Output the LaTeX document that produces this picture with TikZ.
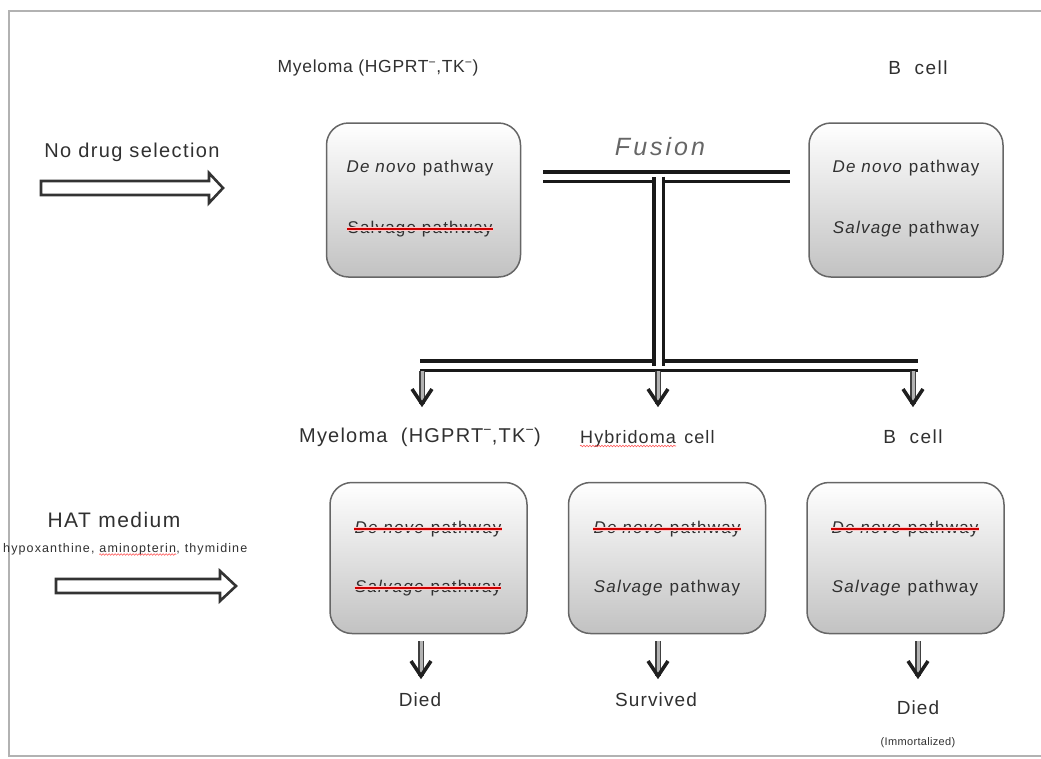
\documentclass[tikz,border=0pt]{standalone}
\usepackage{fontspec}
\setmainfont{Liberation Sans}
\usetikzlibrary{calc,decorations.pathmorphing}
\definecolor{txtc}{HTML}{303030}
\definecolor{boxc}{HTML}{666666}
\newcommand{\fsz}[2]{\fontsize{#1}{#1}\selectfont\addfontfeature{LetterSpace=#2}}
\begin{document}
\begin{tikzpicture}[x=1pt,y=-1pt,
 lbl/.style={inner sep=0pt, text=txtc, font=\fsz{17}{4}},
 ptxt/.style={inner sep=0pt, text=txtc, font=\fsz{17}{7}},
 smalltxt/.style={inner sep=0pt, text=txtc, font=\fsz{12.5}{9}},
 cellbox/.style={draw=boxc, line width=1.5pt, rounded corners=22pt, top color=white, bottom color=black!24, minimum width=194pt, minimum height=154pt, inner sep=0pt},
 pipe/.style={draw=black!90, line width=3.3pt, double=white, double distance=6pt, line cap=butt},
 bigarrow/.style={draw=black!80, line width=2.6pt, fill=white, line join=miter},
 shaft/.style={draw=black!75, line width=1.1pt, double=black!30, double distance=3pt},
 vhead/.style={draw=black!88, line width=3.5pt, line join=miter, line cap=butt},
 glow/.style={draw=red!22, line width=4.5pt},
 strike/.style={draw=red!80!black, line width=1.8pt},
 wavy/.style={draw=red!65, line width=0.6pt, decorate, decoration={snake, amplitude=0.8pt, segment length=3pt}},
 frame/.style={draw=black!30, line width=1.5pt}
]
\useasboundingbox (0,0) rectangle (1041,758);
% frame
\draw[frame] (1041,11) -- (9,11) -- (9,756) -- (1041,756);

% top labels
\node[lbl, font=\fsz{17.5}{4}] (myeT) at (378,68) {Myeloma (HGPRT\textsuperscript{−},TK\textsuperscript{−})};
\node[lbl, font=\fsz{19}{8}] (bcT) at (918,68) {B\ \ cell};
\node[lbl, font=\fsz{20}{7}] (nodrug) at (132,152) {No drug selection};

% big hollow arrows
\draw[bigarrow] (41,181) -- (209,181) -- (209,173) -- (223,188) -- (209,203) -- (209,195) -- (41,195) -- cycle;
\draw[bigarrow] (56,579) -- (220,579) -- (220,571) -- (236,586) -- (220,601) -- (220,593) -- (56,593) -- cycle;

% top boxes
\node[cellbox] (boxTL) at (423.5,200) {};
\node[cellbox] (boxTR) at (906,200) {};
\node[ptxt] (tlA) at (420,168) {\textit{De novo} pathway};
\node[ptxt] (tlB) at (420,229) {Salvage pathway};
\node[ptxt] (trA) at (906,168) {\textit{De novo} pathway};
\node[ptxt] (trB) at (906,229) {\textit{Salvage} pathway};

% fusion
\node[inner sep=0pt, text=black!60, font=\fsz{25}{12}\itshape] (fusion) at (660,147) {Fusion};
\coordinate (fl) at (543,176.5);
\coordinate (fr) at (790,176.5);
\coordinate (fm) at (658.5,176.5);
\coordinate (bm) at (658.5,365.5);
\coordinate (bl) at (420,365.5);
\coordinate (br) at (918,365.5);
\draw[pipe] (fl) -- (fr);
\draw[pipe] (bl) -- (br);
\draw[pipe] (fm) -- (bm);

% arrows from lower pipe
\coordinate (a1s) at (422,371); \coordinate (a1e) at (422,404);
\coordinate (a2s) at (658,371); \coordinate (a2e) at (658,404);
\coordinate (a3s) at (913,371); \coordinate (a3e) at (913,404);
\foreach \s/\e in {a1s/a1e,a2s/a2e,a3s/a3e}{
  \draw[shaft] (\s) -- (\e);
  \draw[vhead] ($(\e)+(-10,-15)$) -- (\e) -- ($(\e)+(10,-15)$);
}

% lower labels
\node[lbl, font=\fsz{20}{6}] (myeB) at (420,437) {Myeloma \ (HGPRT\textsuperscript{−},TK\textsuperscript{−})};
\node[lbl, font=\fsz{18}{6}, anchor=base west] (hyb) at (580,443) {Hybridoma};
\node[lbl, font=\fsz{18}{6}, anchor=base west] (hcell) at ([xshift=8pt]hyb.base east) {cell};
\draw[wavy] ([yshift=-3pt]hyb.base west) -- ([yshift=-3pt]hyb.base east);
\node[lbl, font=\fsz{19}{8}] (bcB) at (913,437) {B\ \ cell};

% HAT medium
\node[lbl, font=\fsz{21}{7}] (hat) at (114,520) {HAT medium};
\node[smalltxt, anchor=base west] (hx1) at (3,552) {hypoxanthine,};
\node[smalltxt, anchor=base west] (hx2) at ([xshift=4.5pt]hx1.base east) {aminopterin};
\node[smalltxt, anchor=base west] (hx3) at (hx2.base east) {,};
\node[smalltxt, anchor=base west] (hx4) at ([xshift=4.5pt]hx3.base east) {thymidine};
\draw[wavy] ([yshift=-2.5pt]hx2.base west) -- ([yshift=-2.5pt]hx2.base east);

% lower boxes
\node[cellbox, minimum width=197pt, minimum height=151pt] (boxBL) at (428.5,558) {};
\node[cellbox, minimum width=197pt, minimum height=151pt] (boxBM) at (667,558) {};
\node[cellbox, minimum width=197pt, minimum height=151pt] (boxBR) at (905.5,558) {};
\node[ptxt] (blA) at (428,529) {\textit{De novo} pathway};
\node[ptxt] (blB) at (428,588) {\textit{Salvage} pathway};
\node[ptxt] (bmA) at (667,529) {\textit{De novo} pathway};
\node[ptxt] (bmB) at (667,588) {\textit{Salvage} pathway};
\node[ptxt] (brA) at (905,529) {\textit{De novo} pathway};
\node[ptxt] (brB) at (905,588) {\textit{Salvage} pathway};
\foreach \n in {tlB,blA,blB,bmA,brA}{
  \draw[glow] ([yshift=4.5pt]\n.base west) -- ([yshift=4.5pt]\n.base east);
  \draw[strike] ([yshift=4.5pt]\n.base west) -- ([yshift=4.5pt]\n.base east);
}

% arrows below boxes
\coordinate (d1s) at (421,641); \coordinate (d1e) at (421,676);
\coordinate (d2s) at (658,641); \coordinate (d2e) at (658,676);
\coordinate (d3s) at (918,641); \coordinate (d3e) at (918,676);
\foreach \s/\e in {d1s/d1e,d2s/d2e,d3s/d3e}{
  \draw[shaft] (\s) -- (\e);
  \draw[vhead] ($(\e)+(-10,-15)$) -- (\e) -- ($(\e)+(10,-15)$);
}

% outcomes
\node[lbl, font=\fsz{19}{6}] (died1) at (420,700) {Died};
\node[lbl, font=\fsz{19}{6}] (surv) at (656,700) {Survived};
\node[lbl, font=\fsz{19}{6}] (died2) at (918,708) {Died};
\node[smalltxt, font=\fsz{11}{3}] (immo) at (918,743) {(Immortalized)};
\end{tikzpicture}
\end{document}
